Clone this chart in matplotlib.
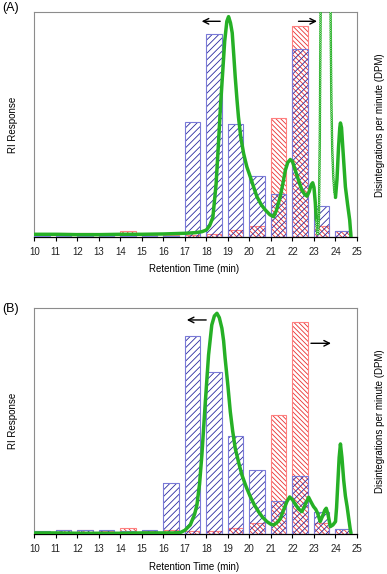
import numpy as np
import matplotlib
matplotlib.use("Agg")
import matplotlib.pyplot as plt

plt.rcParams["font.family"] = ["Liberation Sans", "DejaVu Sans"]
plt.rcParams["hatch.linewidth"] = 0.6

# retention time bins (min)
bins = [10, 11, 12, 13, 14, 15, 16, 17, 18, 19, 20, 21, 22, 23, 24]

# DPM per fraction (arbitrary units)
a_blue = [3, 5, 4, 4, 4, 3, 4, 347, 612, 342, 185, 129, 567, 95, 19]
a_red = [2, 14, 12, 10, 18, 6, 8, 6, 10, 22, 34, 360, 637, 34, 19]
b_blue = [11, 13, 12, 12, 9, 13, 153, 595, 488, 295, 192, 101, 174, 67, 15]
b_red = [5, 13, 14, 10, 18, 9, 13, 11, 9, 20, 33, 358, 636, 33, 15]

# RI trace, panel A
a_ri_t = [10, 11, 12, 13, 14, 15, 16, 17, 17.5, 17.8, 18.0, 18.15, 18.3, 18.45,
          18.55, 18.65, 18.75, 18.85, 18.95, 19.03, 19.12, 19.2, 19.27, 19.34,
          19.42, 19.49, 19.6, 19.73, 19.88, 20.04, 20.2, 20.35, 20.55, 20.74,
          20.95, 21.12, 21.25, 21.43, 21.55, 21.67, 21.78, 21.9, 22.0, 22.13,
          22.29, 22.44, 22.58, 22.68, 22.78, 22.87, 22.94, 23.0, 23.06, 23.11]
a_ri = [9, 9, 8, 8, 9, 9, 10, 12, 14, 17, 22, 35, 60, 160,
        270, 390, 490, 590, 650, 664, 645, 615, 550, 482,
        415, 362, 300, 252, 212, 182, 150, 122, 98, 82,
        68, 62, 80, 122, 160, 202, 225, 234, 228, 202,
        170, 142, 128, 124, 138, 158, 164, 150, 105, 52]
# off-scale peak (drawn dotted)
a_off_up_t = [23.11, 23.15, 23.19, 23.23, 23.27, 23.3, 23.33]
a_off_up = [52, 12, 8, 60, 300, 600, 900]
a_off_dn_t = [23.75, 23.78, 23.81, 23.85, 23.9, 23.95, 24.0]
a_off_dn = [900, 600, 400, 260, 180, 135, 120]
a_tail_t = [24.0, 24.07, 24.14, 24.2, 24.23, 24.28, 24.35, 24.46, 24.56, 24.66, 24.72]
a_tail = [120, 175, 270, 330, 344, 330, 260, 152, 100, 52, 2]

# RI trace, panel B
b_ri_t = [10, 11, 12, 13, 14, 15, 16, 16.5, 16.78, 17.0, 17.25, 17.45, 17.56,
          17.68, 17.79, 17.94, 18.1, 18.25, 18.37, 18.49, 18.6, 18.72, 18.8,
          18.87, 19.0, 19.11, 19.22, 19.34, 19.5, 19.65, 19.85, 20.04, 20.23,
          20.42, 20.6, 20.81, 21.0, 21.12, 21.25, 21.43, 21.6, 21.74, 21.87,
          22.0, 22.13, 22.3, 22.44, 22.6, 22.75, 22.87, 22.98, 23.08, 23.17,
          23.29, 23.4, 23.5, 23.57, 23.65, 23.76, 23.88, 24.0, 24.05, 24.1,
          24.17, 24.23, 24.3, 24.38, 24.46, 24.54, 24.62, 24.69, 24.72]
b_ri = [4, 4, 3, 3, 3, 4, 4, 4, 5, 12, 28, 60, 88,
        150, 238, 388, 538, 628, 655, 663, 650, 618, 580,
        528, 445, 368, 310, 258, 215, 178, 142, 113, 88,
        68, 52, 38, 30, 28, 33, 46, 75, 98, 112,
        104, 90, 75, 68, 90, 111, 96, 83, 75, 63,
        38, 55, 72, 78, 60, 23, 28, 38, 80, 143,
        230, 271, 230, 163, 115, 83, 45, 13, 3]

GREEN = "#26b026"


def draw_panel(ax, blue, red, arrows):
    ax.bar(bins, red, width=0.72, align="edge", facecolor="none",
           edgecolor="#e83030", linewidth=0, hatch="\\\\\\\\\\\\\\", zorder=2)
    ax.bar(bins, red, width=0.72, align="edge", fill=False,
           edgecolor="#ff8080", linewidth=0.8, zorder=2)
    ax.bar(bins, blue, width=0.72, align="edge", facecolor="none",
           edgecolor="#2a2aa0", linewidth=0, hatch="/////", zorder=3)
    ax.bar(bins, blue, width=0.72, align="edge", fill=False,
           edgecolor="#7a7ad8", linewidth=0.8, zorder=3)
    for (x0, x1, y) in arrows:
        ax.annotate("", xy=(x1, y), xytext=(x0, y),
                    arrowprops=dict(arrowstyle="->", color="black", lw=1.0,
                                    shrinkA=0, shrinkB=0), zorder=6)
    ax.set_xlim(10, 25)
    ax.set_ylim(0, 678)
    ax.set_xticks(range(10, 26))
    ax.tick_params(axis="x", direction="out", length=3, width=0.8,
                   labelsize=7, pad=4, labelcolor="#222222")
    ax.set_yticks([])
    for s in ["left", "top", "right"]:
        ax.spines[s].set_color("#8c8c8c")
        ax.spines[s].set_linewidth(0.8)
    ax.spines["bottom"].set_color("black")
    ax.spines["bottom"].set_linewidth(0.9)
    ax.patch.set_visible(False)


def dotted(ax, t, v):
    ax.plot(t, v, color="#555555", lw=0.5, zorder=4)
    ax.plot(t, v, color=GREEN, lw=2.0, dash_capstyle="round",
            linestyle=(0, (0.01, 0.8)), zorder=5)
    ax.plot(t, v, color="#d6f2d6", lw=0.8, dash_capstyle="round",
            linestyle=(0, (0.025, 2.0)), zorder=5)


fig = plt.figure(figsize=(3.87, 5.74), dpi=100)
axA = fig.add_axes([0.0886, 0.5866, 0.8339, 0.3925])
axB = fig.add_axes([0.0886, 0.0692, 0.8339, 0.3937])

draw_panel(axA, a_blue, a_red, [(18.64, 17.78, 650), (22.28, 23.14, 650)])
draw_panel(axB, b_blue, b_red, [(17.99, 17.09, 643), (22.86, 23.79, 573)])

axA.plot(a_ri_t, a_ri, color=GREEN, lw=2.5, solid_capstyle="round",
         solid_joinstyle="round", zorder=5)
dotted(axA, a_off_up_t, a_off_up)
dotted(axA, a_off_dn_t, a_off_dn)
axA.plot(a_tail_t, a_tail, color=GREEN, lw=2.5, solid_capstyle="round",
         solid_joinstyle="round", zorder=5)

axB.plot(b_ri_t, b_ri, color=GREEN, lw=2.5, solid_capstyle="round",
         solid_joinstyle="round", zorder=5)

W, H = 387.0, 574.0
for lab, y in [("(A)", 8), ("(B)", 309)]:
    fig.text(2 / W, 1 - y / H, lab, fontsize=9, ha="left", va="center")
for yc, yl in [(125, 269), (421, 567.5)]:
    fig.text(12.7 / W, 1 - yc / H, "RI Response", rotation=90, fontsize=7,
             ha="center", va="center")
    fig.text(380 / W, 1 - yc / H, "Disintegrations per minute (DPM)",
             rotation=90, fontsize=7, ha="center", va="center")
    fig.text(194 / W, 1 - yl / H, "Retention Time (min)", fontsize=7,
             ha="center", va="center")

fig.savefig("out.png", dpi=100)
